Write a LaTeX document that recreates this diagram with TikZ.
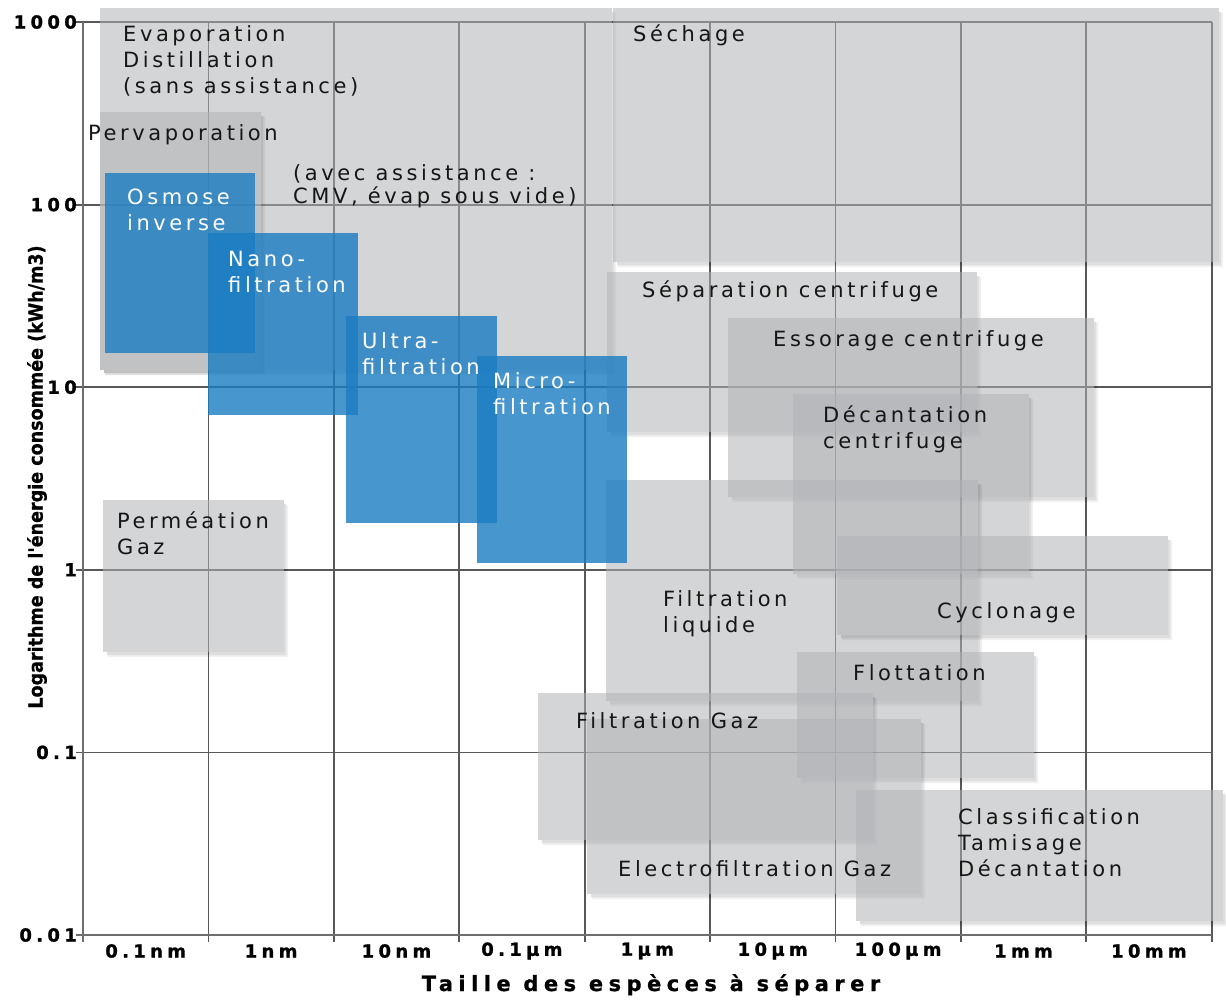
\documentclass[tikz,border=0pt]{standalone}
\usepackage{fontspec}
\setmainfont{DejaVu Sans}
\newfontfamily\boxfont[LetterSpace=17]{DejaVu Sans}
\newfontfamily\tickfont[LetterSpace=24,FakeBold=1.2]{DejaVu Sans}
\newfontfamily\titlefont[LetterSpace=26,FakeBold=0.8]{DejaVu Sans}
\newfontfamily\ylabfont[FakeBold=0.6]{DejaVu Sans Condensed}
\definecolor{gridc}{RGB}{88,88,88}
\definecolor{axisc}{RGB}{110,110,110}
\definecolor{gboxc}{RGB}{178,179,182}
\definecolor{bboxc}{RGB}{26,124,194}
\definecolor{txtc}{RGB}{22,22,22}
\newcommand\ml[1]{\begin{tabular}[t]{@{}l@{}}#1\end{tabular}}
\newcommand\gshadow[4]{%
  \fill[black,opacity=0.13] (#1+4,#4) rectangle (#3+2,#4+3) (#3,#2+4) rectangle (#3+2,#4);
  \fill[black,opacity=0.06] (#1+5,#4+3) rectangle (#3+4,#4+5) (#3+2,#2+5) rectangle (#3+4,#4+3);}
\newcommand\gbx[4]{\gshadow{#1}{#2}{#3}{#4}\fill[gbox] (#1,#2) rectangle (#3,#4);}
\newcommand\bbx[4]{\fill[bbox] (#1,#2) rectangle (#3,#4);}
\begin{document}
\begin{tikzpicture}[x=1pt,y=-1pt,
  gridline/.style={line width=1.8pt, draw=gridc},
  axisline/.style={line width=2.2pt, draw=axisc},
  gbox/.style={fill=gboxc, fill opacity=0.55},
  bbox/.style={fill=bboxc, fill opacity=0.8},
  gtxt/.style={font=\boxfont\fontsize{21}{26}\selectfont, text=txtc, anchor=base west, inner sep=0pt},
  btxt/.style={gtxt, text=white},
  ytick/.style={font=\tickfont\bfseries\fontsize{18}{20}\selectfont, text=black, anchor=east, inner sep=0pt},
  xtick/.style={font=\tickfont\bfseries\fontsize{18}{20}\selectfont, text=black, anchor=center, inner sep=0pt},
  axtitle/.style={font=\titlefont\bfseries\fontsize{21}{24}\selectfont, text=black, inner sep=0pt}]
\useasboundingbox (0,0) rectangle (1226,999);
\fill[white] (0,0) rectangle (1226,999);
% grid
\foreach \i in {1,...,9} \draw[gridline] ({83+125.4*\i},22) -- ({83+125.4*\i},942);
\foreach \j in {0,...,4} \draw[gridline] (76,{22+182.6*\j}) -- (1211.6,{22+182.6*\j});
\draw[axisline] (83,22) -- (83,942);
\draw[axisline] (76,935) -- (1211.6,935);
% gray boxes
\gbx{100}{8}{612}{370}
\gbx{613}{8}{1219}{262}
\gbx{100}{112}{261}{370}
\gbx{607}{272}{977}{432}
\gbx{728}{318}{1094}{497}
\gbx{793}{394}{1029}{574}
\gbx{606}{480}{978}{701}
\gbx{837}{536}{1168}{635}
\gbx{103}{500}{284}{652}
\gbx{797}{652}{1034}{778}
\gbx{538}{693}{873}{840}
\gbx{587}{719}{921}{894}
\gbx{856}{790}{1223}{921}
% blue boxes
\bbx{105}{173}{255}{353}
\bbx{208}{233}{358}{415}
\bbx{346}{316}{497}{523}
\bbx{477}{356}{627}{563}
% texts
\node[gtxt] (evap) at (123,41) {\ml{Evaporation\\Distillation\\(sans assistance)}};
\node[gtxt] (perv) at (88,140) {Pervaporation};
\node[gtxt, font=\boxfont\fontsize{21}{23}\selectfont] (avec) at (293,180) {\ml{(avec assistance :\\CMV, évap sous vide)}};
\node[gtxt] (sech) at (633,41) {Séchage};
\node[btxt] (osm) at (127,204) {\ml{Osmose\\inverse}};
\node[btxt] (nano) at (228,266) {\ml{Nano-\\filtration}};
\node[btxt] (ultra) at (362,348) {\ml{Ultra-\\filtration}};
\node[btxt] (micro) at (493,388) {\ml{Micro-\\filtration}};
\node[gtxt] (perm) at (117,528) {\ml{Perméation\\Gaz}};
\node[gtxt] (sep) at (642,297) {Séparation centrifuge};
\node[gtxt] (ess) at (773,346) {Essorage centrifuge};
\node[gtxt] (dec) at (823,422) {\ml{Décantation\\centrifuge}};
\node[gtxt] (filq) at (663,606) {\ml{Filtration\\liquide}};
\node[gtxt] (cyc) at (937,618) {Cyclonage};
\node[gtxt] (flot) at (853,680) {Flottation};
\node[gtxt] (filg) at (576,728) {Filtration Gaz};
\node[gtxt] (elec) at (618,876) {Electrofiltration Gaz};
\node[gtxt] (cls) at (958,824) {\ml{Classification\\Tamisage\\Décantation}};
% axis labels
\foreach \v [count=\j from 0] in {1000,100,10,1,0.1,0.01}
  \node[ytick] (yl\j) at (77,{22+182.6*\j}) {\v};
\foreach \v [count=\i from 0] in {0.1nm,1nm,10nm,0.1µm,1µm,10µm,100µm,1mm,10mm}
  \node[xtick] (xl\i) at ({83+125.4*(\i+0.5)},951) {\v};
\node[axtitle, anchor=base] (xtitle) at (651,991) {Taille des espèces à séparer};
\node[font=\ylabfont\bfseries\fontsize{19.5}{22}\selectfont, text=black, inner sep=0pt, rotate=90] (ytitle) at (37,477) {Logarithme de l'énergie consommée (kWh/m3)};
\end{tikzpicture}
\end{document}
